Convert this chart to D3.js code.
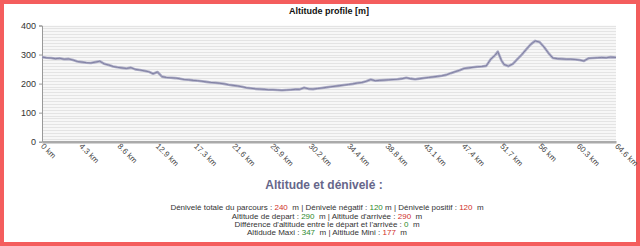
<!DOCTYPE html>
<html>
<head>
<meta charset="utf-8">
<script src="https://cdn.jsdelivr.net/npm/d3@7"></script>
<style>
  body { margin: 0; background: #fff; }
  svg { display: block; font-family: "Liberation Sans", Arial, sans-serif; }
</style>
</head>
<body>
<svg id="chart" width="640" height="246"></svg>
<script>
// distance (km) and altitude (m)
const distKm = [0, 0.5, 1, 1.5, 2, 2.5, 3, 3.5, 4, 4.5, 5, 5.5, 6, 6.5, 7, 7.5, 8, 8.5, 9, 9.5,
  10, 10.5, 11, 11.5, 12, 12.5, 13, 13.5, 14, 14.5, 15, 15.5, 16, 16.5, 17, 17.5, 18, 18.5, 19, 19.5,
  20, 20.5, 21, 21.5, 22, 22.5, 23, 23.5, 24, 24.5, 25, 25.5, 26, 26.5, 27, 27.5, 28, 28.5, 29, 29.5,
  30, 30.5, 31, 31.5, 32, 32.5, 33, 33.5, 34, 34.5, 35, 35.5, 36, 36.5, 37, 37.5, 38, 38.5, 39, 39.5,
  40, 40.5, 41, 41.5, 42, 42.5, 43, 43.5, 44, 44.5, 45, 45.5, 46, 46.5, 47, 47.5, 48, 48.5, 49, 49.5,
  50, 50.5, 51, 51.3, 51.7, 52, 52.5, 53, 53.5, 54, 54.5, 55, 55.5, 56, 56.5, 57, 57.5, 58, 58.5, 59, 59.5,
  60, 60.5, 61, 61.5, 62, 62.5, 63, 63.5, 64, 64.6];
const altM = [291, 289, 288, 286, 287, 284, 285, 281, 276, 274, 272, 271, 274, 277, 268, 264, 259, 256, 254, 252,
  255, 249, 247, 244, 241, 234, 240, 224, 221, 220, 219, 217, 214, 213, 211, 210, 208, 206, 204, 203,
  201, 199, 196, 194, 192, 189, 186, 184, 182, 181, 180, 179, 179, 178, 177, 178, 179, 180, 180, 186,
  182, 181, 183, 185, 187, 189, 191, 193, 195, 197, 199, 202, 204, 208, 214, 210, 211, 212, 213, 214,
  215, 217, 220, 217, 215, 217, 219, 221, 223, 225, 227, 230, 236, 241, 246, 252, 254, 256, 258, 259,
  261, 284, 298, 310, 280, 266, 260, 268, 284, 300, 318, 335, 347, 343, 326, 305, 288, 286, 285, 284, 284,
  283, 281, 278, 287, 288, 289, 290, 289, 291, 290];

const yTicks = [0, 100, 200, 300, 400];
const xLabels = ["0 km", "4.3 km", "8.6 km", "12.9 km", "17.3 km", "21.6 km", "25.9 km", "30.2 km",
  "34.4 km", "38.8 km", "43.1 km", "47.4 km", "51.7 km", "56 km", "60.3 km", "64.6 km"];

const title = "Altitude profile [m]";
const summaryTitle = "Altitude et dénivelé :";
// each line: [text, colour] pieces
const summaryLines = [
  [["Dénivelé totale du parcours : ", null], ["240", "red"], ["  m | Dénivelé négatif : ", null], ["120", "green"],
   [" m | Dénivelé positif : ", null], ["120", "red"], ["  m", null]],
  [["Altitude de depart : ", null], ["290", "green"], ["  m | Altitude d'arrivée : ", null], ["290", "red"], ["  m", null]],
  [["Différence d'altitude entre le départ et l'arrivée : ", null], ["0", "green"], ["  m", null]],
  [["Altidude Maxi : ", null], ["347", "green"], ["  m | Altitude Mini : ", null], ["177", "red"], ["  m", null]]
];

const colors = { red: "#d0302a", green: "#2e8a2e" };

const svg = d3.select("#chart");

// red frame
svg.append("rect").attr("width", 640).attr("height", 246).attr("fill", "#f45d5d");
svg.append("rect").attr("x", 4).attr("y", 4).attr("width", 632).attr("height", 238).attr("fill", "#fff");

const pLeft = 42, pRight = 616, pTop = 25.5, pBottom = 141.7;
const x = d3.scaleLinear().domain([0, 64.6]).range([pLeft, pRight]);
const y = d3.scaleLinear().domain([0, 400]).range([pBottom, pTop]);

// plot background + fine grid every 10 m
svg.append("rect").attr("x", pLeft).attr("y", pTop).attr("width", pRight - pLeft).attr("height", pBottom - pTop)
  .attr("fill", "#f7f7f7");
svg.append("g").selectAll("line")
  .data(d3.range(10, 401, 10))
  .join("line")
  .attr("x1", pLeft).attr("x2", pRight)
  .attr("y1", d => Math.round(y(d)) + 0.5).attr("y2", d => Math.round(y(d)) + 0.5)
  .attr("stroke", "#e4e4e4").attr("stroke-width", 1);

// title
svg.append("text").attr("x", (pLeft + pRight) / 2).attr("y", 14)
  .attr("text-anchor", "middle").attr("font-size", 9).attr("font-weight", "bold").attr("fill", "#111")
  .text(title);

// y axis
const yAxis = svg.append("g").attr("transform", `translate(${pLeft},0)`)
  .call(d3.axisLeft(y).tickValues(yTicks).tickSize(3).tickFormat(d3.format("d")));
yAxis.select(".domain").attr("stroke", "#999");
yAxis.selectAll(".tick line").attr("stroke", "#999");
yAxis.selectAll("text").attr("font-size", 9).attr("fill", "#333").attr("font-family", "Liberation Sans, Arial, sans-serif");

// x axis
const xTickVals = xLabels.map((d, i) => i * 64.6 / (xLabels.length - 1));
const xAxis = svg.append("g").attr("transform", `translate(0,${pBottom})`)
  .call(d3.axisBottom(x).tickValues(xTickVals).tickSize(0).tickFormat((d, i) => xLabels[i]));
xAxis.select(".domain").attr("stroke", "#aaa").attr("stroke-width", 2.5);
xAxis.selectAll("text")
  .attr("font-size", 8).attr("fill", "#444").attr("font-family", "Liberation Sans, Arial, sans-serif")
  .attr("text-anchor", "start").attr("dy", null).attr("y", 0)
  .attr("transform", "translate(-2,5) rotate(45)");

// altitude line
const pts = distKm.map((d, i) => [d, altM[i]]);
const line = d3.line().x(d => x(d[0])).y(d => y(d[1]));
svg.append("path").datum(pts).attr("d", line)
  .attr("fill", "none").attr("stroke", "#acacc6").attr("stroke-width", 2.6).attr("stroke-linejoin", "round");
svg.append("path").datum(pts).attr("d", line)
  .attr("fill", "none").attr("stroke", "#7c7c9e").attr("stroke-width", 0.9).attr("stroke-linejoin", "round");

// summary block
svg.append("text").attr("x", 324).attr("y", 189)
  .attr("text-anchor", "middle").attr("font-size", 12).attr("font-weight", "bold").attr("fill", "#66668a")
  .text(summaryTitle);

const lineYs = [209.5, 218.5, 226.5, 234.5];
summaryLines.forEach((parts, i) => {
  const t = svg.append("text").attr("x", 327).attr("y", lineYs[i])
    .attr("text-anchor", "middle").attr("font-size", 8).attr("fill", "#333")
    .attr("xml:space", "preserve").style("white-space", "pre");
  parts.forEach(p => {
    t.append("tspan").text(p[0]).attr("fill", p[1] ? colors[p[1]] : "#333");
  });
});
</script>
</body>
</html>
